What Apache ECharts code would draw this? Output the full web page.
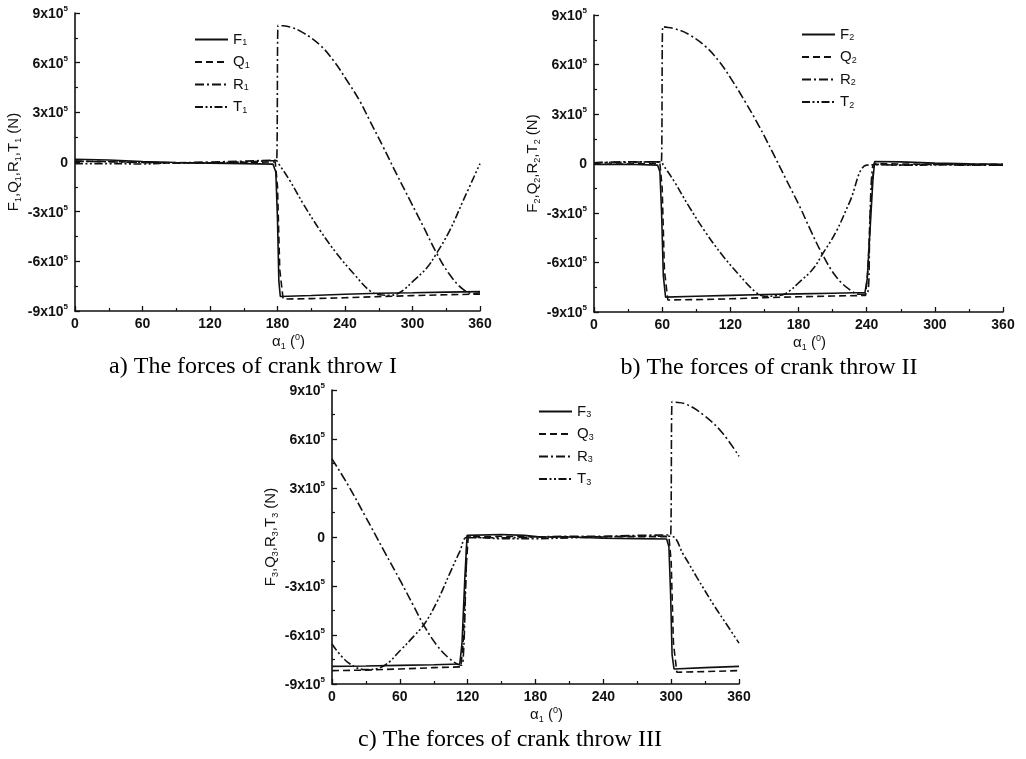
<!DOCTYPE html>
<html>
<head>
<meta charset="utf-8">
<script src="https://cdn.jsdelivr.net/npm/echarts@6/dist/echarts.min.js"></script>
<style>
  html, body { margin: 0; padding: 0; background: #fff; }
  #chart { width: 1026px; height: 759px; }
</style>
</head>
<body>
<div id="chart"></div>
<script>
// ---- Data (forces in units of 1e5 N, crank angle alpha1 in degrees) ----
const X_TICKS = [0, 60, 120, 180, 240, 300, 360];
const Y_TICKS = [-9, -6, -3, 0, 3, 6, 9];
const Y_EXPONENT = 5;

const CAPTIONS = ['a) The forces of crank throw I', 'b) The forces of crank throw II', 'c) The forces of crank throw III'];

// Panel a) crank throw I
const F1 = [[0,0.17],[30,0.12],[60,0.03],[90,-0.03],[120,-0.07],[150,-0.1],[176,-0.13],[178.5,-0.6],[180,-3.5],[181.2,-7.2],[182.5,-8.12],[210,-8.06],[240,-7.99],[270,-7.93],[300,-7.9],[330,-7.86],[360,-7.83]];
const Q1 = [[0,0.05],[30,0.03],[60,-0.02],[90,-0.05],[120,-0.05],[150,-0.02],[178,0],[180,-1.5],[182,-6.5],[185,-8.28],[210,-8.25],[240,-8.2],[270,-8.13],[300,-8.07],[330,-8.02],[360,-7.98]];
const R1 = [[0,0.05],[40,0.0],[80,-0.05],[120,0.0],[150,0.05],[178,0.1],[179.2,0.1],[180.5,8.26],[181.5,8.25],[191,8.16],[203,7.8],[218,7.05],[230,6.1],[241,5.0],[253,3.7],[262,2.5],[274,0.9],[286,-0.75],[298,-2.35],[310,-3.95],[321,-5.45],[333,-6.8],[345,-7.7],[354,-7.95],[360,-7.9]];
const T1 = [[0,-0.1],[30,-0.1],[60,-0.12],[90,-0.05],[120,-0.05],[150,0.0],[179,0.08],[181,-0.1],[191,-1.13],[203,-2.54],[218,-4.15],[233,-5.56],[248,-6.77],[262,-7.77],[271,-8.02],[280,-8.05],[289,-7.87],[301,-7.17],[313,-6.37],[321,-5.56],[333,-4.15],[345,-2.34],[360,-0.1]];

// Panel b) crank throw II
const F2 = [[0,-0.05],[30,-0.05],[56,-0.1],[58,-0.5],[59.5,-3],[61,-6.8],[63,-8.1],[90,-8.05],[120,-7.99],[150,-7.94],[180,-7.9],[210,-7.86],[238.5,-7.82],[240.5,-7.0],[243,-4.0],[245.5,-1.0],[247,0.12],[270,0.1],[300,0.02],[330,-0.02],[360,-0.05]];
const Q2 = [[0,-0.05],[30,-0.03],[58,0],[60,-1.5],[62,-6.5],[65,-8.27],[90,-8.25],[120,-8.2],[150,-8.13],[180,-8.08],[210,-8.03],[239,-8.0],[241,-6.5],[244,-2],[246.5,0],[270,-0.03],[300,-0.05],[330,-0.05],[360,-0.05]];
const R2 = [[0,0.05],[30,0.1],[58.3,0.1],[59.3,0.1],[60.5,8.3],[61.5,8.28],[71,8.17],[84,7.8],[98,7.1],[110,6.2],[121,5.1],[133,3.75],[145,2.3],[157,0.7],[169,-0.95],[181,-2.6],[191,-4.1],[201,-5.5],[213,-6.85],[225,-7.65],[234,-7.92],[240.5,-7.9],[243,-3],[245,-0.3],[247,-0.05],[270,-0.1],[300,-0.05],[330,-0.1],[360,-0.1]];
const T2 = [[0,0.05],[30,0.08],[59,0.1],[61,-0.1],[71,-1.13],[83,-2.54],[98,-4.15],[113,-5.56],[128,-6.77],[142,-7.77],[151,-8.05],[160,-8.02],[169,-7.87],[181,-7.17],[193,-6.37],[201,-5.5],[213,-4.15],[225,-2.34],[240,-0.1],[250,-0.08],[280,-0.1],[310,-0.08],[360,-0.1]];

// Panel c) crank throw III
const F3 = [[0,-7.92],[30,-7.9],[60,-7.86],[90,-7.82],[113,-7.78],[115,-6.5],[117.5,-2.5],[119.5,0.1],[121,0.18],[150,0.15],[170,0.1],[185,0.0],[210,0.0],[240,-0.08],[270,-0.1],[296,-0.12],[298,-0.6],[299.5,-3.5],[300.8,-7.2],[302.5,-8.08],[330,-8.0],[360,-7.92]];
const Q3 = [[0,-8.18],[30,-8.15],[60,-8.08],[90,-8.0],[114,-7.95],[116,-6.5],[118.5,-2],[120.5,0],[150,0.05],[180,0],[240,0.02],[270,0.02],[298,0.02],[300,-1.5],[302,-6.5],[305,-8.28],[330,-8.24],[360,-8.18]];
const R3 = [[0,4.78],[14,3.2],[30,1.2],[46,-0.85],[61,-2.75],[72,-4.2],[82,-5.5],[93,-6.65],[104,-7.45],[114,-7.85],[116,-7.5],[118.5,-2.5],[120,-0.05],[121.5,-0.05],[150,-0.05],[180,0.0],[210,0.05],[240,0.05],[270,0.1],[298.5,0.12],[299.5,0.12],[300.8,8.29],[301.8,8.27],[313,8.14],[329,7.45],[345,6.4],[360,4.94]];
const T3 = [[0,-6.55],[14,-7.67],[30,-8.12],[46,-7.88],[61,-6.9],[72,-6.1],[82,-5.3],[93,-3.95],[105,-2.1],[113,-0.9],[120,0.0],[150,-0.1],[180,-0.1],[210,-0.05],[240,0.0],[270,0.05],[299.5,0.05],[311,-1.1],[323,-2.5],[338,-4.2],[350,-5.45],[360,-6.5]];

const PANELS = [
  { idx: '1', F: F1, Q: Q1, R: R1, T: T1 },
  { idx: '2', F: F2, Q: Q2, R: R2, T: T2 },
  { idx: '3', F: F3, Q: Q3, R: R3, T: T3 }
];

// ---- Layout / style ----
const GRIDS = [
  { left: 75, top: 13, width: 405, height: 298 },
  { left: 594, top: 15, width: 409, height: 297 },
  { left: 332, top: 390, width: 407, height: 294 }
];
const LEGEND_POS = [ { left: 194, top: 32 }, { left: 801, top: 27 }, { left: 538, top: 404 } ];
const CAPTION_POS = [ [253, 367], [769, 368], [510, 740] ];

const SANS = '"Liberation Sans", Arial, sans-serif';
const SERIF = '"Liberation Serif", "Times New Roman", serif';
const INK = '#111';
const DASH = {
  F: 'solid',
  Q: [7, 4],
  R: [9, 3, 2, 3],
  T: [8, 2.5, 2, 2.5, 2, 2.5]
};
const SMOOTH = { F: false, Q: false, R: 0.4, T: 0.4 };

const tickFmt = v => {
  if (Math.abs(v) < 1e-9) return '{b|0}';
  return '{b|' + v + 'x10}{sup|' + Y_EXPONENT + '}';
};

const subRich = {
  m: { fontSize: 15, fontFamily: SANS, color: INK, lineHeight: 18, verticalAlign: 'middle' },
  s: { fontSize: 9, fontFamily: SANS, color: INK, lineHeight: 18, verticalAlign: 'bottom' },
  p: { fontSize: 9, fontFamily: SANS, color: INK, lineHeight: 18, verticalAlign: 'top' }
};

const grid = GRIDS.map(g => Object.assign({ containLabel: false }, g));

const xAxis = GRIDS.map((g, i) => ({
  type: 'value', gridIndex: i, min: X_TICKS[0], max: X_TICKS[X_TICKS.length - 1], interval: 60,
  axisLine: { onZero: false, lineStyle: { color: INK, width: 1.6 } },
  axisTick: { inside: true, length: 5, lineStyle: { color: INK, width: 1.3 } },
  minorTick: { show: true, splitNumber: 2, length: 3, lineStyle: { color: INK, width: 1.2 } },
  splitLine: { show: false },
  axisLabel: { fontSize: 14, fontWeight: 'bold', fontFamily: SANS, color: INK, margin: 6 },
  name: '{m|α}{s|1}{m| (}{p|0}{m|)}',
  nameLocation: 'middle', nameGap: 22,
  nameTextStyle: { rich: subRich, padding: [0, 0, 0, 22] }
}));

const yAxis = GRIDS.map((g, i) => {
  const k = PANELS[i].idx;
  return {
    type: 'value', gridIndex: i, min: Y_TICKS[0], max: Y_TICKS[Y_TICKS.length - 1], interval: 3,
    axisLine: { show: true, onZero: false, lineStyle: { color: INK, width: 1.6 } },
    axisTick: { show: true, inside: true, length: 5, lineStyle: { color: INK, width: 1.3 } },
    minorTick: { show: true, splitNumber: 2, length: 3, lineStyle: { color: INK, width: 1.2 } },
    splitLine: { show: false },
    axisLabel: {
      margin: 7, formatter: tickFmt,
      rich: {
        b: { fontSize: 14, fontWeight: 'bold', fontFamily: SANS, color: INK, lineHeight: 16, verticalAlign: 'bottom' },
        sup: { fontSize: 8, fontWeight: 'bold', fontFamily: SANS, color: INK, lineHeight: 16, verticalAlign: 'top' }
      }
    },
    name: `{m|F}{s|${k}}{m|,Q}{s|${k}}{m|,R}{s|${k}}{m|,T}{s|${k}}{m| (N)}`,
    nameLocation: 'middle', nameRotate: 90, nameGap: 52,
    nameTextStyle: { rich: subRich }
  };
});

const series = [];
const legend = [];
PANELS.forEach((p, i) => {
  const names = [];
  ['F', 'Q', 'R', 'T'].forEach(key => {
    const name = key + p.idx;
    names.push(name);
    series.push({
      name, type: 'line', xAxisIndex: i, yAxisIndex: i,
      data: p[key], symbol: 'none', showSymbol: false,
      smooth: SMOOTH[key],
      lineStyle: { color: INK, width: 1.6, type: DASH[key] },
      itemStyle: { color: INK },
      emphasis: { disabled: true },
      z: key === 'F' ? 5 : 3,
      animation: false
    });
  });
  legend.push({
    orient: 'vertical', left: LEGEND_POS[i].left, top: LEGEND_POS[i].top, padding: 0,
    itemWidth: 33, itemHeight: 14, itemGap: 7,
    data: names, selectedMode: false,
    itemStyle: { opacity: 0, borderWidth: 0 },
    lineStyle: { opacity: 1 },
    formatter: n => `{m|${n[0]}}{s|${n.slice(1)}}`,
    textStyle: { rich: {
      m: { fontSize: 15, fontFamily: SANS, color: INK, lineHeight: 16, verticalAlign: 'middle' },
      s: { fontSize: 9, fontFamily: SANS, color: INK, lineHeight: 16, verticalAlign: 'bottom' }
    } }
  });
});

const graphic = CAPTIONS.map((t, i) => ({
  type: 'text', x: CAPTION_POS[i][0], y: CAPTION_POS[i][1], silent: true,
  style: { text: t, fontSize: 24, fontFamily: SERIF, fill: '#000', align: 'center', verticalAlign: 'middle' }
}));

const chart = echarts.init(document.getElementById('chart'), null, { renderer: 'canvas' });
chart.setOption({
  backgroundColor: '#fff',
  animation: false,
  grid, xAxis, yAxis, series, legend, graphic
});
</script>
</body>
</html>
